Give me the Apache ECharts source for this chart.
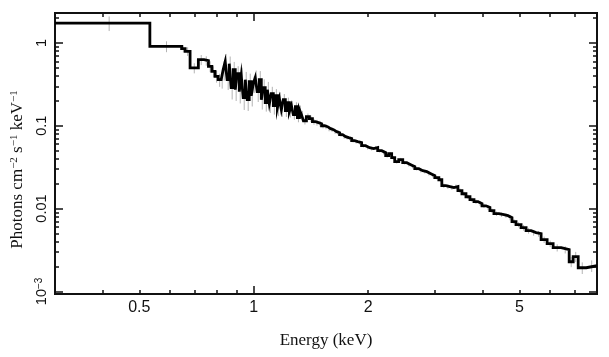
<!DOCTYPE html>
<html><head><meta charset="utf-8">
<script src="https://cdn.jsdelivr.net/npm/echarts@6/dist/echarts.min.js"></script>
<style>html,body{margin:0;padding:0;background:#fff}#c{width:609px;height:357px}</style>
</head><body><div id="c"></div>
<script>
// Energy bin edges (keV): each bin spans binEdges[i] .. binEdges[i+1]
const binEdges = [0.30, 0.533, 0.646, 0.660, 0.680, 0.715, 0.740, 0.760, 0.776, 0.791, 0.806,
  0.821, 0.831, 0.841, 0.851, 0.862, 0.872, 0.883, 0.894, 0.904, 0.916,
  0.927, 0.938, 0.950, 0.961, 0.973, 0.985, 0.997, 1.009, 1.021, 1.034,
  1.047, 1.059, 1.072, 1.086, 1.099, 1.112, 1.126, 1.140, 1.154, 1.168,
  1.182, 1.196, 1.211, 1.226, 1.241, 1.256, 1.271, 1.287, 1.303, 1.319, 1.335,
  1.351, 1.376, 1.401, 1.427, 1.454, 1.480, 1.508, 1.535, 1.564, 1.593,
  1.622, 1.652, 1.682, 1.713, 1.745, 1.777, 1.810, 1.843, 1.877,
  1.922, 1.969, 2.018, 2.068, 2.119, 2.171,
  2.224, 2.265, 2.306, 2.349,
  2.407, 2.466, 2.527, 2.589, 2.653, 2.718, 2.785, 2.854, 2.924, 2.995, 3.069,
  3.125, 3.202, 3.281, 3.362, 3.445, 3.530, 3.617, 3.706, 3.797, 3.891, 3.986, 4.082, 4.182, 4.285,
  4.417, 4.553, 4.665, 4.780, 4.898, 5.050, 5.206, 5.366, 5.531, 5.702, 5.914, 6.133, 6.438, 6.759, 6.925, 7.139, 7.494,
  8.0];

// Photons cm^-2 s^-1 keV^-1 per bin
const fluxValues = [1.74, 0.910, 0.854, 0.792, 0.499, 0.628, 0.611, 0.522, 0.454, 0.395, 0.360,
  0.360, 0.476, 0.5945, 0.360, 0.5623, 0.2885, 0.4759, 0.2729, 0.4258, 0.2581,
  0.4028, 0.2185, 0.3603, 0.2066, 0.3408, 0.2310, 0.3224, 0.3809, 0.2581, 0.3603,
  0.2066, 0.2885, 0.1901, 0.2729, 0.1849, 0.2442, 0.1749, 0.2310, 0.1654, 0.2125,
  0.1565, 0.2066, 0.1522, 0.1901, 0.1480, 0.1749, 0.1362, 0.1701, 0.1253, 0.1565, 0.1362,
  0.115, 0.129, 0.122, 0.112, 0.109, 0.106, 0.100, 0.0975, 0.0923, 0.0897,
  0.0849, 0.0826, 0.0781, 0.0739, 0.0718, 0.0699, 0.0661, 0.0643, 0.0625,
  0.0575, 0.0544, 0.0529, 0.0544, 0.0500, 0.0473,
  0.0435, 0.0460, 0.0412, 0.0368,
  0.0390, 0.0358, 0.0339, 0.0321, 0.0303, 0.0287, 0.0279, 0.0264, 0.0250, 0.0236, 0.0223,
  0.0189, 0.0184, 0.0179, 0.0184, 0.0165, 0.0151, 0.0139, 0.0128, 0.0121, 0.0115, 0.0108, 0.0103, 0.00943, 0.00868,
  0.00844, 0.00821, 0.00777, 0.00695, 0.00639, 0.00588, 0.00541, 0.00512, 0.00497, 0.00421, 0.00377, 0.00337, 0.00319, 0.00228, 0.00263, 0.00193, 0.00204];

// Relative 1-sigma errors per bin
const fluxErrFrac = [0.20, 0.15, 0.10, 0.12, 0.14, 0.14, 0.13, 0.15, 0.15, 0.16, 0.18,
  0.22, 0.26, 0.24, 0.25, 0.22, 0.28, 0.24, 0.27, 0.23, 0.28,
  0.25, 0.29, 0.24, 0.27, 0.25, 0.26, 0.23, 0.22, 0.25, 0.27,
  0.24, 0.26, 0.22, 0.24, 0.23, 0.21, 0.22, 0.20, 0.21, 0.19,
  0.18, 0.17, 0.16, 0.15, 0.15, 0.14, 0.13, 0.13, 0.12, 0.12, 0.11,
  0.10, 0.09, 0.09, 0.08, 0.08, 0.08, 0.07, 0.07, 0.07, 0.06,
  0.06, 0.06, 0.06, 0.06, 0.05, 0.05, 0.05, 0.05, 0.05,
  0.05, 0.05, 0.05, 0.05, 0.05, 0.05,
  0.05, 0.05, 0.05, 0.05,
  0.05, 0.05, 0.05, 0.05, 0.05, 0.05, 0.05, 0.05, 0.05, 0.05, 0.05,
  0.06, 0.06, 0.06, 0.06, 0.06, 0.06, 0.06, 0.06, 0.06, 0.06, 0.06, 0.06, 0.06, 0.06,
  0.06, 0.06, 0.07, 0.07, 0.07, 0.08, 0.08, 0.08, 0.08, 0.09, 0.09, 0.10, 0.10, 0.14, 0.14, 0.16, 0.16];

const xTickValues = [0.5, 1, 2, 5];
const xTickLabels = ['0.5', '1', '2', '5'];
const xMajorTicks = [1];
const xMinorTicks = [0.4, 0.5, 0.6, 0.7, 0.8, 0.9, 2, 3, 4, 5, 6, 7, 8];
const yTickValues = [0.001, 0.01, 0.1, 1];
const yTickLabels = ['{b|10}{s|\u22123}', '0.01', '0.1', '1'];
const yMajorTicks = [0.001, 0.01, 0.1, 1];
const yMinorMultipliers = [2, 3, 4, 5, 6, 7, 8, 9];
const yDecades = [0.001, 0.01, 0.1, 1];
const xRange = [0.3, 8];
const yRange = [0.00093, 2.3];

const yMinorTicks = [];
yDecades.forEach(d => yMinorMultipliers.forEach(m => {
  const v = +(d * m).toPrecision(3);
  if (v < yRange[1]) yMinorTicks.push(v);
}));

const stepData = binEdges.map((e, i) => [e, fluxValues[Math.min(i, fluxValues.length - 1)]]);
const errData = fluxValues.map((v, i) => {
  const c = (binEdges[i] + binEdges[i + 1]) / 2;
  const f = fluxErrFrac[i];
  return [c, v * (1 - f), v * (1 + f)];
});

const INK = '#111';
const SANS = '"Liberation Sans", Arial, Helvetica, sans-serif';
const SERIF = '"Liberation Serif", "Times New Roman", serif';

function findLabel(vals, labels, v) {
  for (let i = 0; i < vals.length; i++) if (Math.abs(vals[i] - v) / vals[i] < 1e-6) return labels[i];
  return '';
}

function makeX(position, ticks, len, withLabels) {
  const ax = {
    type: 'log', logBase: 10, min: xRange[0], max: xRange[1], position: position,
    gridIndex: 0, silent: true,
    axisLine: { show: true, onZero: false, lineStyle: { color: INK, width: 2 } },
    axisTick: { show: true, inside: true, length: len, customValues: ticks, lineStyle: { color: INK, width: 1.5 } },
    splitLine: { show: false }, minorTick: { show: false }, minorSplitLine: { show: false },
    axisLabel: { show: false }
  };
  if (withLabels) {
    ax.axisLabel = {
      show: true, customValues: xTickValues, margin: 6,
      fontFamily: SANS, fontSize: 16, color: INK,
      formatter: v => findLabel(xTickValues, xTickLabels, v)
    };
    ax.name = 'Energy (keV)';
    ax.nameLocation = 'middle';
    ax.nameGap = 38;
    ax.nameTextStyle = { fontFamily: SERIF, fontSize: 17, color: INK };
  }
  return ax;
}

function makeY(position, ticks, len, withLabels) {
  const ax = {
    type: 'log', logBase: 10, min: yRange[0], max: yRange[1], position: position,
    gridIndex: 0, silent: true,
    axisLine: { show: true, onZero: false, lineStyle: { color: INK, width: 2 } },
    axisTick: { show: true, inside: true, length: len, customValues: ticks, lineStyle: { color: INK, width: 1.5 } },
    splitLine: { show: false }, minorTick: { show: false }, minorSplitLine: { show: false },
    axisLabel: { show: false }
  };
  if (withLabels) {
    ax.axisLabel = {
      show: true, customValues: yTickValues, margin: 6, rotate: 90,
      fontFamily: SANS, fontSize: 14.5, color: INK,
      formatter: v => findLabel(yTickValues, yTickLabels, v),
      rich: {
        b: { fontFamily: SANS, fontSize: 14.5, color: INK },
        s: { fontFamily: SANS, fontSize: 10, color: INK, verticalAlign: 'top' }
      }
    };
    ax.name = '{a|Photons cm}{s|\u22122}{a| s}{s|\u22121}{a| keV}{s|\u22121}';
    ax.nameLocation = 'middle';
    ax.nameGap = 26;
    ax.nameTextStyle = {
      fontFamily: SERIF, fontSize: 17, color: INK, padding: [0, 32, 0, 0],
      rich: {
        a: { fontFamily: SERIF, fontSize: 17, color: INK },
        s: { fontFamily: SERIF, fontSize: 11, color: INK, verticalAlign: 'top' }
      }
    };
  }
  return ax;
}

const chart = echarts.init(document.getElementById('c'), null, { renderer: 'canvas' });
chart.setOption({
  animation: false,
  backgroundColor: '#fff',
  grid: { left: 55, right: 12, top: 13, bottom: 63, containLabel: false, outerBoundsMode: 'none' },
  xAxis: [
    makeX('bottom', xMinorTicks, 4, true),
    makeX('bottom', xMajorTicks, 8, false),
    makeX('top', xMinorTicks, 4, false),
    makeX('top', xMajorTicks, 8, false)
  ],
  yAxis: [
    makeY('left', yMinorTicks, 4, true),
    makeY('left', yMajorTicks, 8, false),
    makeY('right', yMinorTicks, 4, false),
    makeY('right', yMajorTicks, 8, false)
  ],
  series: [
    {
      type: 'custom', xAxisIndex: 0, yAxisIndex: 0, clip: true, z: 1,
      encode: { x: 0, y: [1, 2] },
      data: errData,
      renderItem: (params, api) => {
        const p1 = api.coord([api.value(0), api.value(1)]);
        const p2 = api.coord([api.value(0), api.value(2)]);
        return { type: 'line', shape: { x1: p1[0], y1: p1[1], x2: p2[0], y2: p2[1] },
                 style: { stroke: '#b4b4b4', lineWidth: 1 } };
      }
    },
    {
      type: 'line', xAxisIndex: 0, yAxisIndex: 0, step: 'end', z: 2,
      data: stepData, showSymbol: false, symbol: 'none', clip: true,
      lineStyle: { color: '#000', width: 2.8, join: 'miter' }
    }
  ]
});
</script>
</body></html>
